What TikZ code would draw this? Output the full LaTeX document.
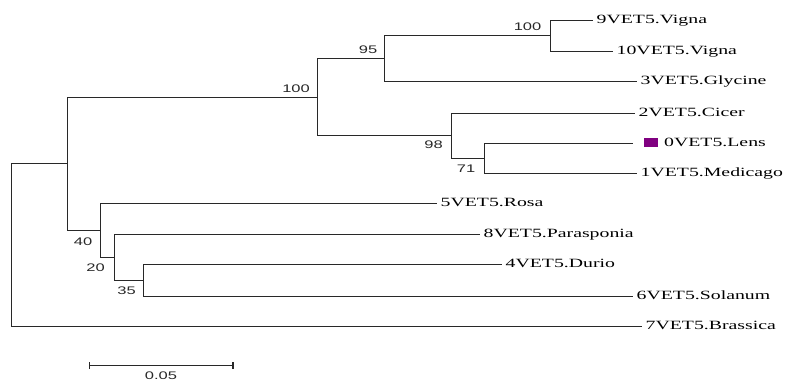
\documentclass[tikz,border=0pt]{standalone}
\usepackage{xcolor}
\usepackage{fontspec}
\usepackage{tikz}
\usetikzlibrary{positioning,arrows.meta}

\newfontfamily\leaffont[FakeStretch=1.57]{Liberation Serif}
\newfontfamily\bootfont[FakeStretch=1.5]{Liberation Sans}
\definecolor{lenspurple}{RGB}{128,0,128}
\definecolor{treegray}{RGB}{40,40,40}

\begin{document}
\begin{tikzpicture}[
x=1pt,
y=-1pt,
leaf/.style={
anchor=west,
inner xsep=3.5pt,
inner ysep=0pt,
text height=8.3pt,
text depth=2.6pt,
font=\leaffont\fontsize{12.6pt}{14pt}\selectfont
},
boot/.style={
inner sep=0pt,
text=treegray,
font=\bootfont\fontsize{11pt}{13pt}\selectfont
},
branch/.style={
draw=treegray,
line width=1.2pt
},
scalebar/.style={
draw=treegray,
line width=1.2pt,
{Bar[width=7pt]}-{Bar[width=7pt]}
}
]

\useasboundingbox (0,0) rectangle (791,382);

%%%%%%%%%%%%%%%%%%%%%%%%%%%%%%%%%%%%%%%%%%%%%
% Leaves
%%%%%%%%%%%%%%%%%%%%%%%%%%%%%%%%%%%%%%%%%%%%%

\node[leaf] (vig9) at (593,20.5) {9VET5.Vigna};

\node[leaf] (vig10) at (613,51.5) {10VET5.Vigna};

\node[leaf] (gly3) at (637,81.5) {3VET5.Glycine};

\node[leaf] (cic2) at (635,113.5) {2VET5.Cicer};

\node[leaf] (lens0) at (633,143.5)
{\hspace{7.5pt}\textcolor{lenspurple}{\rule[-0.25pt]{14pt}{8.5pt}}\hspace{6pt}0VET5.Lens};

\node[leaf] (med1) at (637,173.5) {1VET5.Medicago};

\node[leaf] (rosa5) at (437,203.5) {5VET5.Rosa};

\node[leaf] (para8) at (480,234.5) {8VET5.Parasponia};

\node[leaf] (dur4) at (502,264.5) {4VET5.Durio};

\node[leaf] (sol6) at (633,296.5) {6VET5.Solanum};

\node[leaf] (bra7) at (642,326.5) {7VET5.Brassica};

%%%%%%%%%%%%%%%%%%%%%%%%%%%%%%%%%%%%%%%%%%%%%
% Inner nodes
%%%%%%%%%%%%%%%%%%%%%%%%%%%%%%%%%%%%%%%%%%%%%

\coordinate (nvig) at (550.5,35.5);
\coordinate (n95) at (384.5,58.5);
\coordinate (nmed) at (484.5,158.5);
\coordinate (n98) at (451.5,135.5);
\coordinate (n100) at (317.5,97.5);
\coordinate (ndur) at (143.5,280.5);
\coordinate (npar) at (114.5,257.5);
\coordinate (nros) at (100.5,230.5);
\coordinate (nin) at (67.5,163.5);
\coordinate (root) at (11.5,244.5);

%%%%%%%%%%%%%%%%%%%%%%%%%%%%%%%%%%%%%%%%%%%%%
% Bootstrap values
%%%%%%%%%%%%%%%%%%%%%%%%%%%%%%%%%%%%%%%%%%%%%

\node[boot, above left=5pt and 7.5pt of n100] (b100) {100};

\node[boot, above left=5pt and 7pt of n95] (b95) {95};

\node[boot, above left=4.5pt and 9pt of nvig] (bvig) {100};

\node[boot, below left=5.5pt and 8.5pt of n98] (b98) {98};

\node[boot, below left=6.3pt and 9pt of nmed] (b71) {71};

\node[boot, below left=6.8pt and 8pt of nros] (b40) {40};

\node[boot, below left=6.5pt and 9.5pt of npar] (b20) {20};

\node[boot, below left=6.2pt and 7.5pt of ndur] (b35) {35};

%%%%%%%%%%%%%%%%%%%%%%%%%%%%%%%%%%%%%%%%%%%%%
% Branches
%%%%%%%%%%%%%%%%%%%%%%%%%%%%%%%%%%%%%%%%%%%%%

\draw[branch] (nvig) |- (vig9.west);
\draw[branch] (nvig) |- (vig10.west);

\draw[branch] (n95) |- (nvig);
\draw[branch] (n95) |- (gly3.west);

\draw[branch] (nmed) |- (lens0.west);
\draw[branch] (nmed) |- (med1.west);

\draw[branch] (n98) |- (cic2.west);
\draw[branch] (n98) |- (nmed);

\draw[branch] (n100) |- (n95);
\draw[branch] (n100) |- (n98);

\draw[branch] (ndur) |- (dur4.west);
\draw[branch] (ndur) |- (sol6.west);

\draw[branch] (npar) |- (para8.west);
\draw[branch] (npar) |- (ndur);

\draw[branch] (nros) |- (rosa5.west);
\draw[branch] (nros) |- (npar);

\draw[branch] (nin) |- (n100);
\draw[branch] (nin) |- (nros);

\draw[branch] (root) |- (nin);
\draw[branch] (root) |- (bra7.west);

%%%%%%%%%%%%%%%%%%%%%%%%%%%%%%%%%%%%%%%%%%%%%
% Scale bar
%%%%%%%%%%%%%%%%%%%%%%%%%%%%%%%%%%%%%%%%%%%%%

\coordinate (sbl) at (88.5,365.5);
\coordinate (sbr) at (233.5,365.5);

\draw[scalebar] (sbl) -- node[boot, below=6pt] (sbtext) {0.05} (sbr);

\end{tikzpicture}
\end{document}
